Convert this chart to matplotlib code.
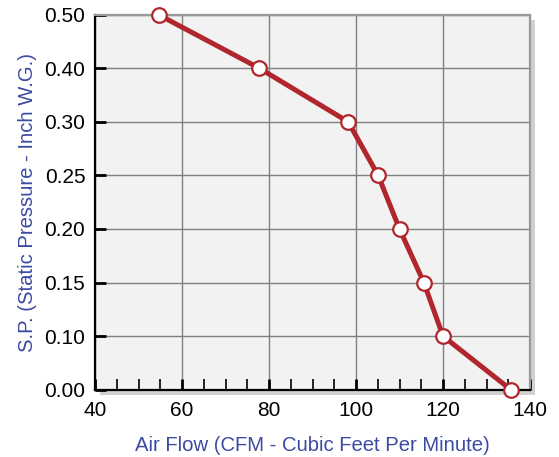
import matplotlib.pyplot as plt
import matplotlib.patches as mpatches
import numpy as np

plt.rcParams['font.family'] = ['Liberation Sans', 'DejaVu Sans']

# fan curve
air_flow = [54.6, 77.8, 98.2, 105.1, 110.0, 115.6, 120.0, 135.6]
static_pressure = [0.50, 0.40, 0.30, 0.25, 0.20, 0.15, 0.10, 0.00]

y_ticks = [0.00, 0.10, 0.15, 0.20, 0.25, 0.30, 0.40, 0.50]
y_ticklabels = ['0.00', '0.10', '0.15', '0.20', '0.25', '0.30', '0.40', '0.50']
x_ticks = [40, 60, 80, 100, 120, 140]

label_color = '#3b4ba3'
line_color = '#b0262c'

idx = np.arange(len(y_ticks))


def fwd(v):
    return np.interp(v, y_ticks, idx)


def inv(i):
    return np.interp(i, idx, y_ticks)


fig = plt.figure(figsize=(5.59, 4.57), dpi=100)
left, bottom, width, height = 95 / 559, 1 - 389.7 / 457, 435 / 559, 375 / 457
ax = fig.add_axes([left, bottom, width, height])

# drop shadow behind plot area
dx, dy = 5 / 559, 5 / 457
fig.patches.append(mpatches.Rectangle((left + dx, bottom - dy), width, height,
                                      transform=fig.transFigure, facecolor='#d0d0d0',
                                      edgecolor='none', zorder=-1))

ax.set_facecolor('#f2f2f2')
ax.set_yscale('function', functions=(fwd, inv))
ax.set_xlim(40, 140)
ax.set_ylim(0, 0.5)

ax.plot(air_flow, static_pressure, color=line_color, linewidth=3.6,
        marker='o', markersize=10.5, markerfacecolor='white',
        markeredgecolor=line_color, markeredgewidth=1.6, zorder=5, clip_on=False)

ax.set_xticks(x_ticks)
ax.set_xticks(np.arange(45, 140, 5), minor=True)
ax.set_yticks(y_ticks)
ax.set_yticklabels(y_ticklabels)
ax.yaxis.set_minor_locator(plt.NullLocator())

ax.grid(True, which='major', color='#808080', linewidth=1.0)
ax.set_axisbelow(True)

ax.tick_params(axis='both', which='major', direction='in', length=8, width=2,
               labelsize=15, pad=7, colors='black')
ax.tick_params(axis='x', which='minor', direction='in', length=8, width=1.2)
ax.tick_params(axis='x', which='major', pad=8)

for s in ['left', 'bottom']:
    ax.spines[s].set_color('black')
    ax.spines[s].set_linewidth(1.6)
for s in ['top', 'right']:
    ax.spines[s].set_color('#999999')
    ax.spines[s].set_linewidth(1.6)

ax.set_xlabel('Air Flow (CFM - Cubic Feet Per Minute)', color=label_color,
              fontsize=14.6, labelpad=12)
ax.set_ylabel('S.P. (Static Pressure - Inch W.G.)', color=label_color,
              fontsize=14.6, labelpad=5)

fig.savefig('out.png', dpi=100)
